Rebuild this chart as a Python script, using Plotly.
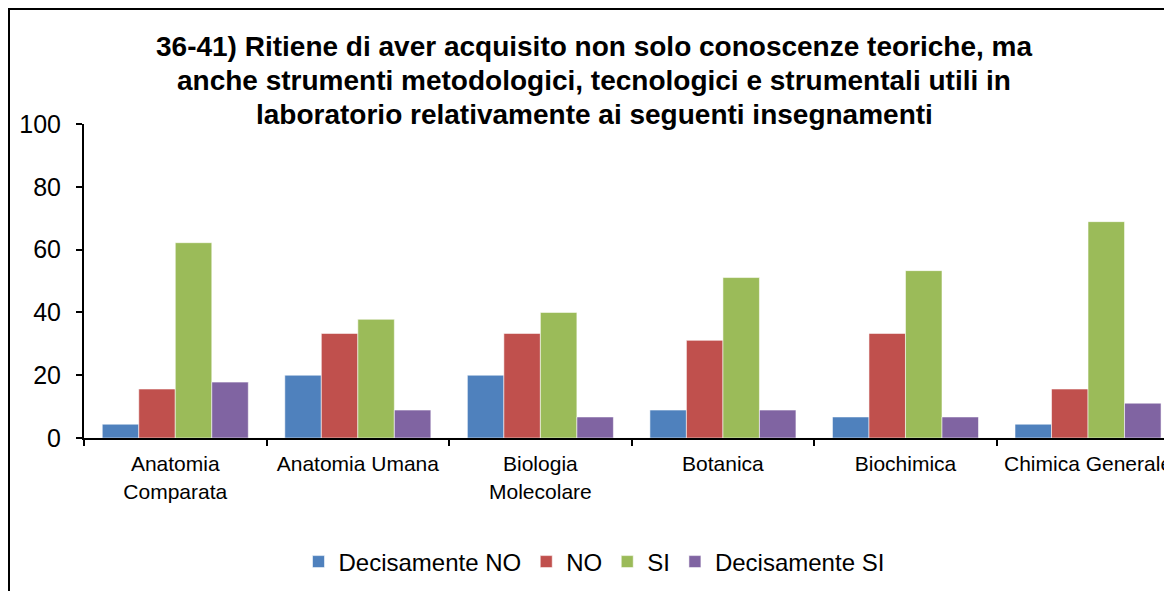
import plotly.graph_objects as go

categories = ["Anatomia<br>Comparata", "Anatomia Umana", "Biologia<br>Molecolare",
              "Botanica", "Biochimica", "Chimica Generale"]
decisamente_no = [4.4, 20.0, 20.0, 8.9, 6.7, 4.4]
no = [15.6, 33.3, 33.3, 31.1, 33.3, 15.6]
si = [62.2, 37.8, 40.0, 51.1, 53.3, 68.9]
decisamente_si = [17.8, 8.9, 6.7, 8.9, 6.7, 11.1]

series_names = ["Decisamente NO", "NO", "SI", "Decisamente SI"]
series_values = [decisamente_no, no, si, decisamente_si]
colors = ["#4F81BD", "#C0504D", "#9BBB59", "#8064A2"]

title_lines = [
    "36-41) Ritiene di aver acquisito non solo conoscenze teoriche, ma",
    "anche strumenti metodologici, tecnologici e strumentali utili in",
    "laboratorio relativamente ai seguenti insegnamenti",
]

# page body has an 8px margin; compensate so the figure fills the window
OFF = 8
W, H = 1172 - OFF, 591 - OFF
L, R, T, B = 84 - OFF, 0, 124 - OFF, 153
pw, ph = W - L - R, H - T - B


def px(x):
    return (x - OFF - L) / pw


def py(y):
    return (H - B - (y - OFF)) / ph


fig = go.Figure()
for name, vals, c in zip(series_names, series_values, colors):
    fig.add_trace(go.Bar(
        x=categories, y=vals, name=name,
        marker=dict(color=c, line=dict(color="rgba(255,255,255,0.55)", width=1)),
    ))

font_family = "Liberation Sans, Arial, sans-serif"

annotations = []
for line, yc in zip(title_lines, [47, 81, 115]):
    annotations.append(dict(
        text="<b>" + line + "</b>", x=px(594), y=py(yc), xref="paper", yref="paper",
        xanchor="center", yanchor="middle", showarrow=False,
        font=dict(family=font_family, size=28, color="black"),
    ))

fig.update_layout(
    width=W, height=H,
    margin=dict(l=L, r=R, t=T, b=B, autoexpand=False),
    paper_bgcolor="white", plot_bgcolor="white",
    barmode="group", bargap=0.2, bargroupgap=0,
    font=dict(family=font_family, color="black"),
    annotations=annotations,
    showlegend=True,
    legend=dict(orientation="h", x=px(594), xanchor="center", y=py(562), yanchor="middle",
                font=dict(size=24, family=font_family), traceorder="normal"),
    shapes=[dict(type="rect", xref="paper", yref="paper",
                 x0=px(9), x1=px(1220), y0=py(640), y1=py(9),
                 line=dict(color="black", width=2), layer="below")],
)

fig.update_xaxes(
    range=[-0.5, 5.46], showline=True, linecolor="black", linewidth=2,
    ticks="outside", tickson="boundaries", ticklen=6, tickwidth=1.5, tickcolor="black",
    tickfont=dict(size=21, family=font_family), showgrid=False, zeroline=False,
    ticklabelstandoff=6,
)
fig.update_yaxes(
    range=[0, 100], tickvals=[0, 20, 40, 60, 80, 100], showline=True,
    linecolor="black", linewidth=2, ticks="outside", ticklen=6, tickwidth=1.5,
    tickcolor="black", tickfont=dict(size=25, family=font_family), showgrid=False,
    zeroline=False, ticklabelstandoff=10,
)

fig.write_html("out.html")
